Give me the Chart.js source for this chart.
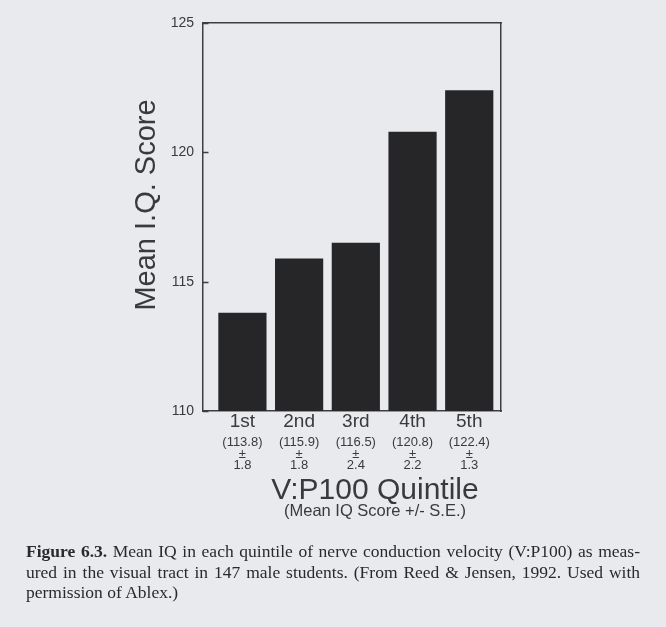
<!DOCTYPE html>
<html>
<head>
<meta charset="utf-8">
<script src="https://cdn.jsdelivr.net/npm/chart.js@4.4.0/dist/chart.umd.min.js"></script>
<style>
html,body{margin:0;padding:0;background:#e8eaee;}
#wrap{position:relative;width:666px;height:627px;overflow:hidden;background:#e8eaee;}
#c{position:absolute;left:0;top:0;}
.cap{position:absolute;left:26px;width:614px;font-family:"Liberation Serif","Times New Roman",serif;font-size:17.5px;line-height:20.5px;color:#2a2a2c;white-space:nowrap;}
.j{text-align:justify;text-align-last:justify;}
</style>
</head>
<body>
<div id="wrap">
<canvas id="c" width="666" height="627"></canvas>
<div class="cap j" style="top:541px"><b>Figure 6.3.</b> Mean IQ in each quintile of nerve conduction velocity (V:P100) as meas-</div>
<div class="cap j" style="top:561.5px">ured in the visual tract in 147 male students. (From Reed &amp; Jensen, 1992. Used with</div>
<div class="cap" style="top:582px">permission of Ablex.)</div>
</div>
<script>
// ---- data ----
const categories = ['1st', '2nd', '3rd', '4th', '5th'];
const meanIQ = [113.8, 115.9, 116.5, 120.8, 122.4];
const standardError = [1.8, 1.8, 2.4, 2.2, 1.3];
const yTicks = [110, 115, 120, 125];
const yTitle = 'Mean I.Q. Score';
const xTitle = 'V:P100 Quintile';
const xSubtitle = '(Mean IQ Score +/- S.E.)';

// ---- style ----
const FONT = '"Liberation Sans", Arial, Helvetica, sans-serif';
const TEXT = '#3a3a3c';
const AXIS = '#3e3e40';
const BAR = '#262628';
const X_MIN = 0.305, X_MAX = 5.56;

const tickPositions = s => { s.ticks = categories.map((c, i) => ({ value: i + 1 })); };

// inward-pointing tick marks on the y axis + axis titles
const decorations = {
  id: 'decorations',
  afterDraw(chart) {
    const { ctx, chartArea: a } = chart;
    const ys = chart.scales.y;
    ctx.save();
    ctx.strokeStyle = AXIS;
    ctx.lineWidth = 1.3;
    ctx.beginPath();
    yTicks.forEach(v => {
      const py = Math.round(ys.getPixelForValue(v)) + 0.5;
      ctx.moveTo(a.left, py);
      ctx.lineTo(a.left + 5.5, py);
    });
    ctx.stroke();

    ctx.fillStyle = TEXT;
    ctx.textAlign = 'center';
    ctx.textBaseline = 'alphabetic';
    const cx = (a.left + a.right) / 2 + 23;
    ctx.font = '30px ' + FONT;
    ctx.fillText(xTitle, cx, a.bottom + 87.5);
    ctx.font = '16.5px ' + FONT;
    ctx.fillText(xSubtitle, cx, a.bottom + 104.5);
    ctx.translate(a.left - 48, (a.top + a.bottom) / 2 - 12);
    ctx.rotate(-Math.PI / 2);
    ctx.font = '29px ' + FONT;
    ctx.fillText(yTitle, 0, 0);
    ctx.restore();
  }
};

new Chart(document.getElementById('c'), {
  type: 'bar',
  data: {
    datasets: [{
      label: 'Mean IQ',
      data: meanIQ.map((v, i) => ({ x: i + 1, y: v })),
      backgroundColor: BAR,
      borderWidth: 0,
      barPercentage: 0.85,
      categoryPercentage: 1,
      xAxisID: 'x',
      yAxisID: 'y'
    }]
  },
  options: {
    responsive: false,
    animation: false,
    devicePixelRatio: 1,
    layout: { padding: { left: 0, right: 165, top: 23, bottom: 156 } },
    plugins: { legend: { display: false }, tooltip: { enabled: false } },
    scales: {
      y: {
        type: 'linear', position: 'left', min: 110, max: 125,
        afterBuildTicks: s => { s.ticks = yTicks.map(v => ({ value: v })); },
        ticks: { color: TEXT, padding: 9, font: { family: FONT, size: 14 }, callback: v => String(v) },
        grid: { display: false, drawTicks: false },
        border: { display: true, color: AXIS, width: 1.5 },
        afterFit: s => { s.width = 203; }
      },
      yRight: {
        type: 'linear', position: 'right', display: true,
        ticks: { display: false },
        grid: { display: false, drawTicks: false },
        border: { display: true, color: AXIS, width: 1.5 },
        afterFit: s => { s.width = 0; }
      },
      xTop: {
        type: 'linear', position: 'top', display: true,
        ticks: { display: false },
        grid: { display: false, drawTicks: false },
        border: { display: true, color: AXIS, width: 1.5 },
        afterFit: s => { s.height = 0; }
      },
      x: {
        type: 'linear', position: 'bottom', weight: 0, min: X_MIN, max: X_MAX, offset: false,
        afterBuildTicks: tickPositions,
        ticks: { autoSkip: false, maxRotation: 0, minRotation: 0, padding: 1, color: TEXT,
                 font: { family: FONT, size: 19, lineHeight: 1 },
                 callback: (v, i) => categories[i] },
        grid: { display: false, drawTicks: false, offset: false },
        border: { display: true, color: AXIS, width: 1.5 },
        afterFit: s => { s.height = 20; }
      },
      xInfo: {
        type: 'linear', position: 'bottom', weight: 1, min: X_MIN, max: X_MAX, offset: false,
        afterBuildTicks: tickPositions,
        ticks: { autoSkip: false, maxRotation: 0, minRotation: 0, padding: 5.5, color: TEXT,
                 font: { family: FONT, size: 13, lineHeight: 0.9 },
                 callback: (v, i) => ['(' + meanIQ[i].toFixed(1) + ')', '±', standardError[i].toFixed(1)] },
        grid: { display: false, drawTicks: false, offset: false },
        border: { display: false },
        afterFit: s => { s.height = 40; }
      }
    }
  },
  plugins: [decorations]
});
</script>
</body>
</html>
